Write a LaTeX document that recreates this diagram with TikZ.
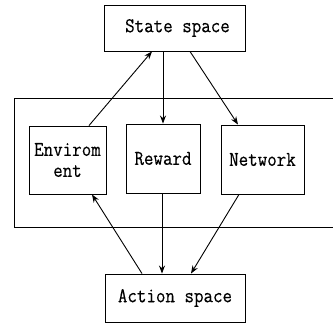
\documentclass[tikz,border=0pt]{standalone}
\usepackage{fontspec}
\setmonofont{Latin Modern Mono}[FakeStretch=0.88,FakeBold=0.4]
\usetikzlibrary{arrows.meta}

\begin{document}
\begin{tikzpicture}[->,>={Stealth[length=8pt,width=6pt]},x=1pt,y=1pt,line width=0.9pt,
                    every node/.style={font=\ttfamily\fontsize{21}{21}\selectfont}]
  \tikzstyle{box}=[draw,line width=0.9pt,align=center,inner sep=0pt]

  \useasboundingbox (0,0) rectangle (333,324);
  \clip (0,0) rectangle (333,324);

  \node[box,minimum width=141pt,minimum height=46pt] (State)   at (174.5,296)  {\hspace{6pt}State space};
  \node[box,minimum width=77pt,minimum height=68pt]  (Env)     at (67.5,164)   {Envirom\\ent};
  \node[box,minimum width=74pt,minimum height=69pt]  (Reward)  at (163,165.5)  {Reward};
  \node[box,minimum width=83pt,minimum height=69pt]  (Network) at (262.5,164.5) {Network};
  \node[box,minimum width=140pt,minimum height=48pt] (Action)  at (175,26)     {Action space};

  \draw[-] (345,226) -- (14,226) -- (14,97) -- (345,97);

  \path ([xshift=21.5pt]Env.north)      edge ([xshift=-22.5pt]State.south)
        ([xshift=-11.5pt]State.south)   edge (Reward.north)
        ([xshift=15.5pt]State.south)    edge ([xshift=-24.5pt]Network.north)
        ([xshift=-33pt]Action.north)    edge ([xshift=24.5pt]Env.south)
        ([xshift=-1pt]Reward.south)     edge ([xshift=-13pt]Action.north)
        ([xshift=-23.5pt]Network.south) edge ([xshift=16pt]Action.north);
\end{tikzpicture}
\end{document}
